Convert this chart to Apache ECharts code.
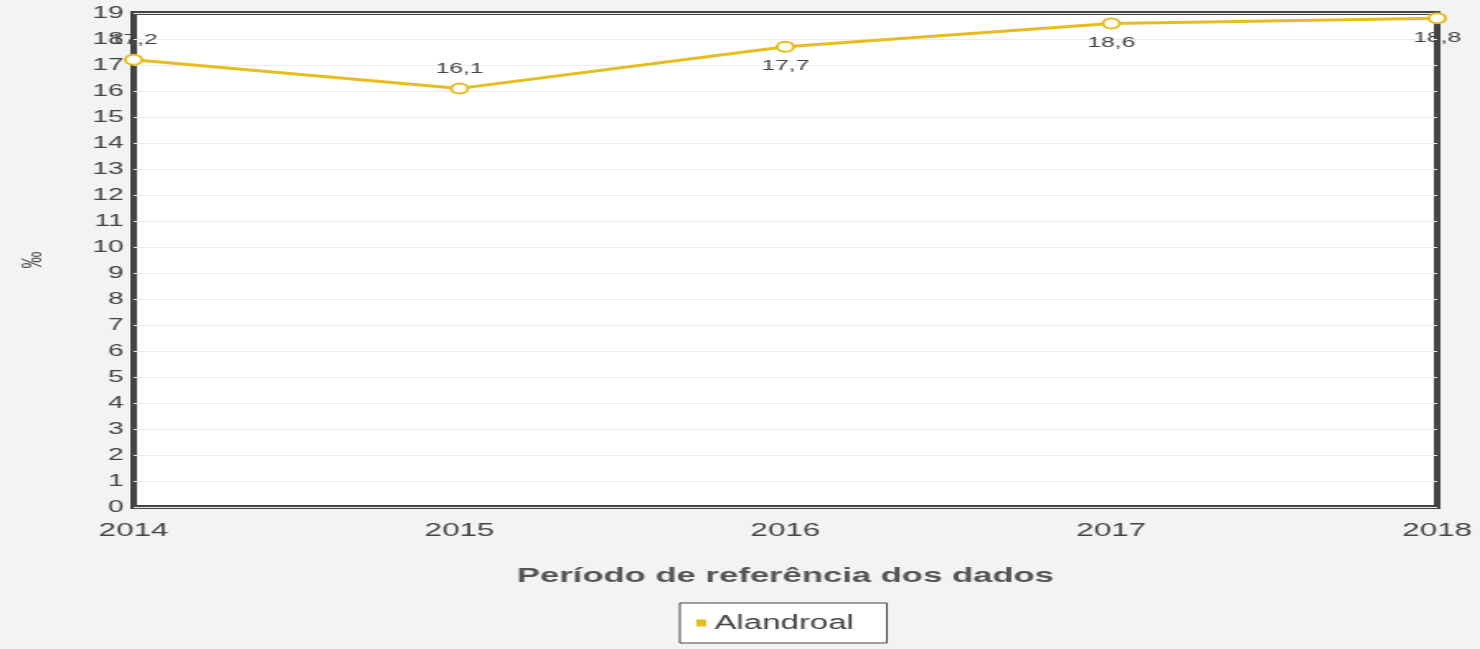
<!DOCTYPE html>
<html>
<head>
<meta charset="utf-8">
<title>Alandroal</title>
<script src="https://cdn.jsdelivr.net/npm/echarts@6/dist/echarts.min.js"></script>
<style>
  html, body { margin: 0; padding: 0; background: #f3f3f3; overflow: hidden; }
  /* the reference is horizontally stretched, so draw narrow and stretch it */
  #chart { width: 897px; height: 649px; transform: scaleX(1.65); transform-origin: 0 0; }
</style>
</head>
<body>
<div id="chart"></div>
<script>
var years = ['2014', '2015', '2016', '2017', '2018']
var alandroal = [17.2, 16.1, 17.7, 18.6, 18.8]
var labelPos = ['top', 'top', 'bottom', 'bottom', 'bottom']
var seriesName = 'Alandroal'
var yellow = '#e6bd1f'

var chart = echarts.init(document.getElementById('chart'))

chart.setOption({
  backgroundColor: '#f3f3f3',
  animation: false,
  textStyle: { fontFamily: 'Liberation Sans, Arial, sans-serif' },
  grid: {
    left: 81,
    right: 26,
    top: 13,
    bottom: 142,
    show: true,
    backgroundColor: '#fff',
    borderColor: '#444',
    borderWidth: 4
  },
  legend: {
    data: [seriesName],
    left: 412,
    top: 603,
    padding: [10, 20, 10, 10],
    backgroundColor: '#fff',
    borderColor: '#444',
    borderWidth: 1,
    itemWidth: 6,
    itemHeight: 7,
    icon: 'rect',
    itemStyle: { color: yellow, borderWidth: 0 },
    textStyle: { color: '#444', fontSize: 20 }
  },
  xAxis: {
    type: 'category',
    data: years,
    boundaryGap: false,
    name: 'Período de referência dos dados',
    nameLocation: 'middle',
    nameGap: 59,
    nameTextStyle: { color: '#555', fontSize: 21, fontWeight: 'bold' },
    axisLine: { show: false },
    axisTick: { show: false },
    axisLabel: { color: '#444', fontSize: 19, margin: 14 },
    splitLine: { show: false }
  },
  yAxis: {
    type: 'value',
    min: 0,
    max: 19,
    interval: 1,
    name: '‰',
    nameLocation: 'middle',
    nameRotate: 90,
    nameGap: 52,
    nameTextStyle: { color: '#555', fontSize: 17 },
    axisLine: { show: false },
    axisTick: { show: false },
    axisLabel: { color: '#444', fontSize: 17, margin: 6 },
    splitLine: { lineStyle: { color: '#ececec', width: 1 } }
  },
  series: [{
    name: seriesName,
    type: 'line',
    data: alandroal.map(function (v, i) {
      return { value: v, label: { position: labelPos[i] } }
    }),
    color: yellow,
    lineStyle: { color: yellow, width: 3 },
    symbol: 'circle',
    symbolSize: 10,
    itemStyle: { color: '#fff', borderColor: yellow, borderWidth: 2 },
    label: {
      show: true,
      color: '#444',
      fontSize: 15,
      distance: 6,
      formatter: function (p) { return String(p.value).replace('.', ',') }
    }
  }]
})
</script>
</body>
</html>
